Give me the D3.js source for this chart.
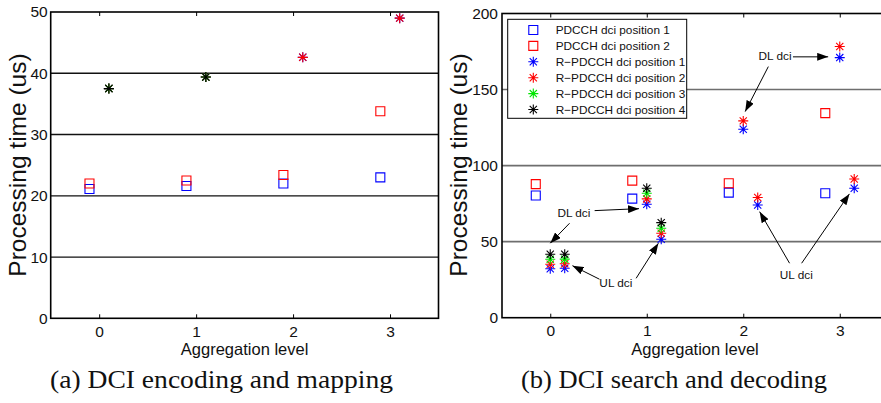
<!DOCTYPE html>
<html>
<head>
<meta charset="utf-8">
<script src="https://cdn.jsdelivr.net/npm/d3@7"></script>
<style>
    body { margin: 0; background: #fff; }
    svg { display: block; font-family: "Liberation Sans", Arial, sans-serif; }
</style>
</head>
<body>
<div id="chart"></div>
<script>
//Datos comunes
const levels = [0, 1, 2, 3];
const yTicksEnc = [0, 10, 20, 30, 40, 50];
const yTicksDec = [0, 50, 100, 150, 200];
const legendNames = ['PDCCH dci position 1', 'PDCCH dci position 2', 'R\u2212PDCCH dci position 1',
    'R\u2212PDCCH dci position 2', 'R\u2212PDCCH dci position 3', 'R\u2212PDCCH dci position 4'];

//(a) DCI encoding and mapping
const encSquareX = [-0.1, 0.9, 1.9, 2.9];
const encStarX = [0.1, 1.1, 2.1, 3.1];
const encPdcch1 = [21.1, 21.6, 22.0, 23.0];
const encPdcch2 = [22.0, 22.5, 23.4, 33.8];
const encRpdcch1 = [37.5, 39.4, 42.6, 49.0];
const encRpdcch2 = [37.5, 39.4, 42.6, 49.0];
const encRpdcch3 = [37.5, 39.4, null, null];
const encRpdcch4 = [37.5, 39.4, null, null];

//(b) DCI search and decoding
const decSquareX = [-0.15, 0.85, 1.85, 2.85];
const decDlX = [0, 1, 2, 3];
const decUlX = [0.15, 1.15, 2.15, 3.15];
const decPdcch1 = [80.3, 78.3, 82.2, 81.8];
const decPdcch2 = [87.8, 90.1, 88.4, 134.5];
const decDl1 = [32.2, 74.6, 123.9, 171.0];
const decDl2 = [35.1, 78.1, 129.4, 178.3];
const decDl3 = [38.4, 81.8, null, null];
const decDl4 = [41.7, 85.1, null, null];
const decUl1 = [32.5, 51.6, 74.1, 85.1];
const decUl2 = [35.5, 55.5, 79.0, 91.2];
const decUl3 = [38.5, 58.8, null, null];
const decUl4 = [41.7, 62.5, null, null];

//Anotaciones (coordenadas de datos)
const decNotes = [
    { text: 'DL dci', at: [2.33, 172.2], arrows: [[[2.515, 171.5], [2.88, 171.5]], [[2.26, 165.1], [2.02, 135.5]]] },
    { text: 'DL dci', at: [0.245, 68.7], arrows: [[[0.46, 70.4], [0.92, 71.7]], [[0.20, 62.1], [0.0, 49.0]]] },
    { text: 'UL dci', at: [0.68, 22.6], arrows: [[[0.51, 25.3], [0.23, 34.2]], [[0.89, 25.9], [1.12, 48.9]]] },
    { text: 'UL dci', at: [2.55, 28.1], arrows: [[[2.48, 35.8], [2.17, 69.7]], [[2.605, 35.8], [3.10, 81.4]]] }
];

//Colores fijos
const BLUE = '#0000ff', RED = '#ff0000', GREEN = '#00e600', BLACK = '#000000';
const seriesColors = [BLUE, RED, BLUE, RED, GREEN, BLACK];

//Marcador asterisco estilo matlab
const symbolStar = {
    draw: function(ctx, size) {
        let r = Math.sqrt(size) / 2, d = r * 0.72;
        ctx.moveTo(-r, 0); ctx.lineTo(r, 0);
        ctx.moveTo(0, -r); ctx.lineTo(0, r);
        ctx.moveTo(-d, -d); ctx.lineTo(d, d);
        ctx.moveTo(-d, d); ctx.lineTo(d, -d);
    }
};
const markers = [d3.symbolSquare, d3.symbolSquare, symbolStar, symbolStar, symbolStar, symbolStar];
const markerSize = function(m) { return m === d3.symbolSquare ? 81 : 100; };

let svg = d3.select('#chart').append('svg')
    .attr('width', 881)
    .attr('height', 403);

svg.append('defs').append('marker')
    .attr('id', 'head')
    .attr('markerUnits', 'userSpaceOnUse')
    .attr('markerWidth', 12).attr('markerHeight', 8)
    .attr('refX', 11).attr('refY', 4)
    .attr('orient', 'auto')
    .append('path')
    .attr('d', 'M0,0 L11,4 L0,8 Z')
    .attr('fill', '#000');

function drawPanel(cfg) {
    let x = d3.scaleLinear().domain([-0.5, 3.5]).range([cfg.left, cfg.right]);
    let y = d3.scaleLinear().domain([0, cfg.yMax]).range([cfg.bottom, cfg.top]);
    let g = svg.append('g');

    //Rejilla
    g.selectAll('.grid')
        .data(cfg.yTicks.filter(function(d) { return d > 0 && d < cfg.yMax; }))
        .enter().append('line')
        .attr('x1', cfg.left).attr('x2', cfg.right)
        .attr('y1', function(d) { return y(d); }).attr('y2', function(d) { return y(d); })
        .attr('stroke', cfg.gridColor)
        .attr('stroke-width', cfg.gridWidth);

    //Ejes
    let styleAxis = function(a) {
        a.attr('font-size', null).attr('font-family', null);
        a.select('.domain').remove();
        a.selectAll('.tick line').attr('stroke', '#000');
        a.selectAll('text').attr('font-size', 15.5).attr('fill', '#111');
    };

    g.append('g')
        .attr('transform', 'translate(0,' + cfg.bottom + ')')
        .call(d3.axisBottom(x).tickValues(levels).tickFormat(d3.format('d')).tickSize(-4).tickPadding(7.5))
        .call(styleAxis);

    g.append('g')
        .attr('transform', 'translate(0,' + cfg.top + ')')
        .call(d3.axisTop(x).tickValues(levels).tickSize(-4).tickFormat(''))
        .call(styleAxis);

    g.append('g')
        .attr('transform', 'translate(' + cfg.left + ',0)')
        .call(d3.axisLeft(y).tickValues(cfg.yTicks).tickSize(0).tickPadding(cfg.yPad))
        .call(styleAxis);

    //Marco
    g.append('rect')
        .attr('x', cfg.left).attr('y', cfg.top)
        .attr('width', cfg.right - cfg.left).attr('height', cfg.bottom - cfg.top)
        .attr('fill', 'none')
        .attr('stroke', '#000')
        .attr('stroke-width', 1.6);

    //Títulos de ejes
    g.append('text')
        .attr('x', (cfg.left + cfg.right) / 2)
        .attr('y', 355)
        .attr('text-anchor', 'middle')
        .attr('font-size', 16.5)
        .attr('fill', '#111')
        .text('Aggregation level');

    g.append('text')
        .attr('transform', 'translate(' + cfg.ylabelX + ',165) rotate(-90)')
        .attr('text-anchor', 'middle')
        .attr('font-size', 24.5)
        .attr('fill', '#111')
        .text('Processing time (us)');

    //Pie de figura
    g.append('text')
        .attr('x', cfg.captionX)
        .attr('y', 387.5)
        .attr('text-anchor', 'middle')
        .attr('font-family', '"Liberation Serif", "Times New Roman", serif')
        .attr('font-size', 25)
        .attr('textLength', cfg.captionLen)
        .attr('lengthAdjust', 'spacingAndGlyphs')
        .attr('fill', '#111')
        .text(cfg.caption);

    //Puntos
    cfg.series.forEach(function(s, k) {
        let pts = s.x.map(function(xv, i) { return { x: xv, y: s.y[i] }; })
            .filter(function(p) { return p.y != null; });
        g.selectAll(null)
            .data(pts)
            .enter().append('path')
            .attr('transform', function(d) { return 'translate(' + x(d.x) + ',' + y(d.y) + ')'; })
            .attr('d', d3.symbol().type(markers[k]).size(markerSize(markers[k])))
            .attr('fill', 'none')
            .attr('stroke', seriesColors[k])
            .attr('stroke-width', 1.1);
    });

    return { x: x, y: y, g: g };
}

//Panel (a)
drawPanel({
    left: 50.7, right: 438.5, top: 12, bottom: 318.3,
    yMax: 50, yTicks: yTicksEnc, yPad: 3,
    gridColor: '#111', gridWidth: 1.3,
    ylabelX: 26, captionX: 221.5, captionLen: 343,
    caption: '(a) DCI encoding and mapping',
    series: [
        { x: encSquareX, y: encPdcch1 },
        { x: encSquareX, y: encPdcch2 },
        { x: encStarX, y: encRpdcch1 },
        { x: encStarX, y: encRpdcch2 },
        { x: encStarX, y: encRpdcch3 },
        { x: encStarX, y: encRpdcch4 }
    ]
});

//Panel (b)
let pb = drawPanel({
    left: 502, right: 888, top: 13.5, bottom: 317.7,
    yMax: 200, yTicks: yTicksDec, yPad: 4,
    gridColor: '#6e6e6e', gridWidth: 1.6,
    ylabelX: 467, captionX: 674, captionLen: 306,
    caption: '(b) DCI search and decoding',
    series: [
        { x: decSquareX, y: decPdcch1 },
        { x: decSquareX, y: decPdcch2 },
        { x: decDlX.concat(decUlX), y: decDl1.concat(decUl1) },
        { x: decDlX.concat(decUlX), y: decDl2.concat(decUl2) },
        { x: decDlX.concat(decUlX), y: decDl3.concat(decUl3) },
        { x: decDlX.concat(decUlX), y: decDl4.concat(decUl4) }
    ]
});

//Anotaciones con flechas
decNotes.forEach(function(n) {
    pb.g.append('text')
        .attr('x', pb.x(n.at[0]))
        .attr('y', pb.y(n.at[1]))
        .attr('dy', '0.35em')
        .attr('text-anchor', 'middle')
        .attr('font-size', 11.8)
        .attr('fill', '#111')
        .text(n.text);
    n.arrows.forEach(function(a) {
        pb.g.append('line')
            .attr('x1', pb.x(a[0][0])).attr('y1', pb.y(a[0][1]))
            .attr('x2', pb.x(a[1][0])).attr('y2', pb.y(a[1][1]))
            .attr('stroke', '#000')
            .attr('stroke-width', 1)
            .attr('marker-end', 'url(#head)');
    });
});

//Leyenda
let legend = pb.g.append('g').attr('transform', 'translate(507.7,19.3)');
legend.append('rect')
    .attr('width', 179).attr('height', 99)
    .attr('fill', '#fff')
    .attr('stroke', '#000')
    .attr('stroke-width', 1);

let rows = legend.selectAll('.row')
    .data(legendNames)
    .enter().append('g')
    .attr('transform', function(d, i) { return 'translate(0,' + (10.7 + i * 15.9) + ')'; });

rows.append('path')
    .attr('transform', 'translate(25.6,0)')
    .attr('d', function(d, i) { return d3.symbol().type(markers[i]).size(markerSize(markers[i]))(); })
    .attr('fill', 'none')
    .attr('stroke', function(d, i) { return seriesColors[i]; })
    .attr('stroke-width', 1.1);

rows.append('text')
    .attr('x', 48)
    .attr('dy', '0.35em')
    .attr('font-size', 11.8)
    .attr('fill', '#111')
    .text(function(d) { return d; });
</script>
</body>
</html>
